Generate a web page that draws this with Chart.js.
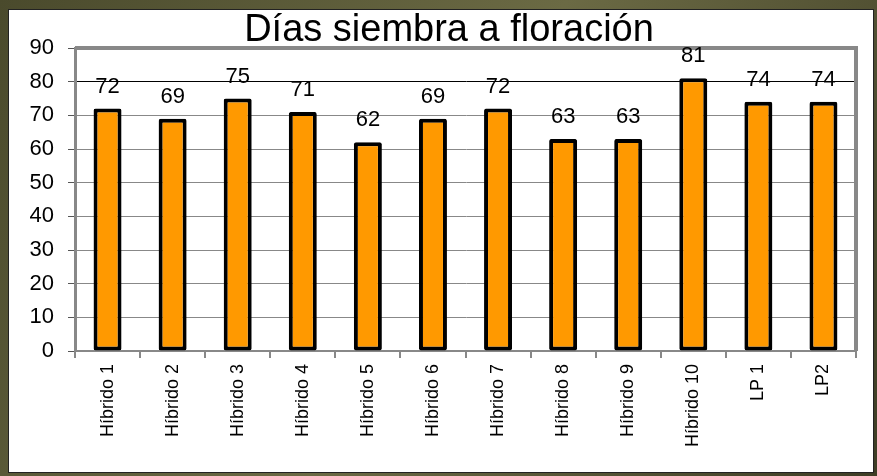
<!DOCTYPE html>
<html>
<head>
<meta charset="utf-8">
<script src="https://cdn.jsdelivr.net/npm/chart.js@4/dist/chart.umd.min.js"></script>
<style>
  html, body { margin: 0; padding: 0; background: #5a5838; }
  canvas { display: block; }
</style>
</head>
<body>
<canvas id="chart" width="877" height="476"></canvas>
<script>
// Data
const categories = ["Híbrido 1", "Híbrido 2", "Híbrido 3", "Híbrido 4", "Híbrido 5", "Híbrido 6",
                    "Híbrido 7", "Híbrido 8", "Híbrido 9", "Híbrido 10", "LP 1", "LP2"];
const diasFloracion = [72, 69, 75, 71, 62, 69, 72, 63, 63, 81, 74, 74];
const yTicks = [0, 10, 20, 30, 40, 50, 60, 70, 80, 90];
const titleText = "Días siembra a floración";

const FONT = "'Liberation Sans', Arial, sans-serif";

// Background + white panel behind the chart
const panelPlugin = {
    id: "panel",
    beforeDraw(chart) {
        const ctx = chart.ctx;
        ctx.save();
        const g = ctx.createLinearGradient(0, 0, chart.width, chart.height);
        g.addColorStop(0, "#4a4a2c");
        g.addColorStop(0.5, "#6b6a44");
        g.addColorStop(1, "#3e3d25");
        ctx.fillStyle = g;
        ctx.fillRect(0, 0, chart.width, chart.height);
        ctx.fillStyle = "#ffffff";
        ctx.fillRect(9, 10, 864, 462);
        ctx.strokeStyle = "#222";
        ctx.lineWidth = 1;
        ctx.strokeRect(8.5, 9.5, 865, 463);
        ctx.restore();
    }
};

// Title, top/right frame lines and value labels
const overlayPlugin = {
    id: "overlay",
    afterDraw(chart) {
        const ctx = chart.ctx;
        const a = chart.chartArea;
        ctx.save();
        ctx.strokeStyle = "#888888";
        ctx.lineWidth = 4;
        ctx.beginPath();
        ctx.moveTo(a.left, a.top);
        ctx.lineTo(a.right, a.top);
        ctx.lineTo(a.right, a.bottom);
        ctx.stroke();

        ctx.fillStyle = "#000";
        ctx.font = "22px " + FONT;
        ctx.textAlign = "center";
        ctx.textBaseline = "alphabetic";
        const meta = chart.getDatasetMeta(0);
        meta.data.forEach((bar, i) => {
            ctx.fillText(String(diasFloracion[i]), bar.x, bar.y - 16);
        });

        ctx.font = "38px " + FONT;
        ctx.fillText(titleText, 449, 41);
        ctx.restore();
    }
};

const ctx = document.getElementById("chart").getContext("2d");
new Chart(ctx, {
    type: "bar",
    data: {
        labels: categories,
        datasets: [{
            data: diasFloracion,
            backgroundColor: "#ff9900",
            borderColor: "#000000",
            borderWidth: 4,
            borderSkipped: false,
            borderRadius: 2,
            barPercentage: 0.43,
            categoryPercentage: 1
        }]
    },
    options: {
        responsive: false,
        animation: false,
        layout: { padding: { left: 0, right: 21, top: 48, bottom: 0 } },
        plugins: {
            legend: { display: false },
            tooltip: { enabled: false },
            title: { display: false }
        },
        scales: {
            x: {
                grid: {
                    offset: true,
                    drawOnChartArea: false,
                    drawTicks: true,
                    tickLength: 7,
                    color: "#888888",
                    lineWidth: 2
                },
                border: { color: "#888888", width: 2 },
                ticks: {
                    color: "#000",
                    font: { family: FONT, size: 18 },
                    minRotation: 90,
                    maxRotation: 90,
                    padding: 6,
                    autoSkip: false
                },
                afterFit(scale) { scale.height = 125; }
            },
            y: {
                min: 0,
                max: 90,
                afterBuildTicks(scale) {
                    scale.ticks = yTicks.map(v => ({ value: v }));
                },
                grid: {
                    color: ctx => ctx.tick && ctx.tick.value === 80 ? "#000000" : "#888888",
                    lineWidth: 1,
                    tickLength: 7,
                    tickColor: "#555555"
                },
                border: { color: "#888888", width: 3 },
                ticks: {
                    color: "#000",
                    font: { family: FONT, size: 22 },
                    padding: 14
                },
                afterFit(scale) { scale.width = 75; }
            }
        }
    },
    plugins: [panelPlugin, overlayPlugin]
});
</script>
</body>
</html>
